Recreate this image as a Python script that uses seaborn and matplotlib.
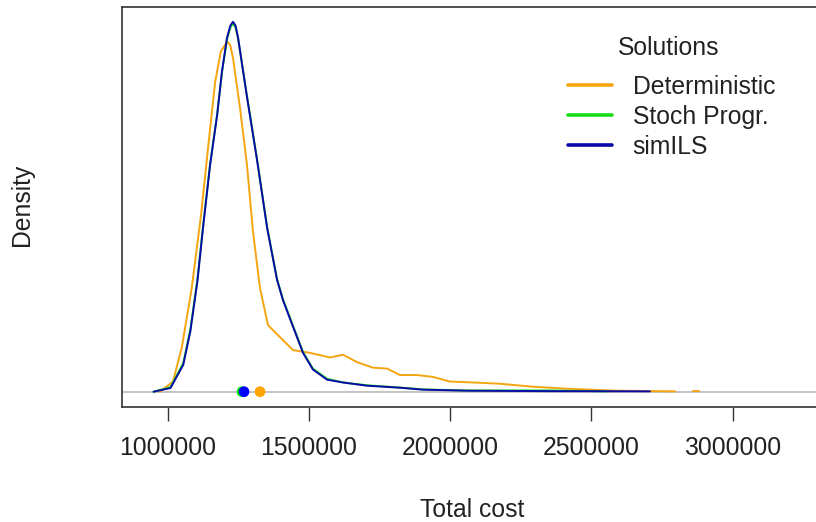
import pandas as pd
import seaborn as sns
import matplotlib.pyplot as plt
from matplotlib.lines import Line2D

# density curves of the total cost (density in 1e-6 units)
det_cost = [972700, 1018800, 1050000, 1085000, 1118000, 1143000, 1168000, 1188000,
            1203000, 1213400, 1222000, 1231000, 1255900, 1280700, 1301900, 1326700,
            1355000, 1397500, 1443500, 1503700, 1574500, 1620500, 1670100, 1726700,
            1776300, 1822300, 1882500, 1939100, 1999300, 2080700, 2176300, 2293100,
            2413400, 2590400, 2795800]
det_dens = [0.00, 0.11, 0.48, 1.12, 1.91, 2.64, 3.35, 3.68,
            3.75, 3.78, 3.74, 3.61, 3.07, 2.45, 1.73, 1.12,
            0.72, 0.59, 0.45, 0.42, 0.37, 0.40, 0.32, 0.26,
            0.25, 0.18, 0.18, 0.16, 0.11, 0.10, 0.086, 0.054,
            0.032, 0.011, 0.004]
det_tail_cost = [2858000, 2880000]
det_tail_dens = [0.010, 0.010]

sp_cost = [950000, 1010000, 1055000, 1080000, 1105000, 1125000, 1150000, 1175000,
           1192000, 1210000, 1222000, 1231000, 1240000, 1249000, 1281000, 1316000,
           1352000, 1387000, 1408000, 1444000, 1479000, 1514000, 1564000, 1620000,
           1705000, 1822000, 1904000, 2060000, 2353000, 2388000, 2560000]
sp_dens = [0.00, 0.05, 0.31, 0.67, 1.21, 1.79, 2.46, 3.00,
           3.45, 3.81, 3.94, 3.98, 3.94, 3.82, 3.19, 2.52,
           1.78, 1.22, 1.00, 0.71, 0.43, 0.25, 0.14, 0.10,
           0.07, 0.045, 0.025, 0.013, 0.014, 0.012, 0.004]

ils_cost = [950000, 1010000, 1055000, 1080000, 1105000, 1125000, 1150000, 1175000,
            1192000, 1210000, 1222000, 1231000, 1240000, 1249000, 1281000, 1316000,
            1352000, 1387000, 1408000, 1444000, 1479000, 1514000, 1564000, 1620000,
            1705000, 1822000, 1904000, 2060000, 2353000, 2707000]
ils_dens = [0.00, 0.04, 0.29, 0.65, 1.19, 1.77, 2.45, 2.99,
            3.46, 3.83, 3.96, 4.00, 3.96, 3.83, 3.18, 2.51,
            1.77, 1.21, 0.99, 0.70, 0.42, 0.24, 0.13, 0.10,
            0.065, 0.043, 0.022, 0.011, 0.006, 0.004]

# mean cost of each solution, drawn as dots on the zero line
solutions = ["Deterministic", "Stoch Progr.", "simILS"]
mean_cost = [1326700, 1263000, 1270100]

line_colors = {"Deterministic": "#F5A511", "Stoch Progr.": "#19DD19", "simILS": "#0A0AA8"}
dot_colors = {"Deterministic": "#FFA500", "Stoch Progr.": "#00FF00", "simILS": "#0000FF"}

xticks = [1000000, 1500000, 2000000, 2500000, 3000000]

curves = pd.concat([
    pd.DataFrame({"cost": det_cost, "dens": det_dens, "solution": "Deterministic"}),
    pd.DataFrame({"cost": sp_cost, "dens": sp_dens, "solution": "Stoch Progr."}),
    pd.DataFrame({"cost": ils_cost, "dens": ils_dens, "solution": "simILS"}),
], ignore_index=True)
means = pd.DataFrame({"cost": mean_cost, "dens": 0.0, "solution": solutions})

sns.set_style("white")
plt.rcParams["font.family"] = ["Liberation Sans", "DejaVu Sans"]
txt = "#222222"
fs = 17.8

fig = plt.figure(figsize=(8.16, 5.22), dpi=100)
ax = fig.add_axes([122 / 816, 1 - 406.5 / 522, (816 - 122) / 816, (406.5 - 7) / 522])

ax.axhline(0, color="#BEBEBE", lw=1.3, zorder=1)
sns.lineplot(data=curves, x="cost", y="dens", hue="solution", hue_order=solutions,
             palette=line_colors, sort=False, estimator=None, lw=1.4,
             legend=False, ax=ax, zorder=2)
sns.lineplot(x=det_tail_cost, y=det_tail_dens, color=line_colors["Deterministic"],
             lw=1.4, ax=ax, zorder=2)
sns.scatterplot(data=means, x="cost", y="dens", hue="solution", hue_order=solutions,
                palette=dot_colors, s=60, linewidth=0, legend=False, ax=ax, zorder=3)

ax.set_xlim(838230, 3294900)
ax.set_ylim(-0.16, 4.16)
ax.set_xticks(xticks)
ax.set_xticklabels([str(v) for v in xticks])
ax.set_yticks([])
ax.tick_params(axis="x", length=10, width=1, color="#333333", pad=11,
               labelsize=fs, labelcolor=txt, bottom=True)

for side in ["left", "top", "bottom"]:
    ax.spines[side].set_color("#333333")
    ax.spines[side].set_linewidth(1.2)
ax.spines["right"].set_visible(False)

ax.set_xlabel("Total cost", fontsize=fs, color=txt)
ax.set_ylabel("Density", fontsize=fs, color=txt)
ax.xaxis.set_label_coords(0.504, -0.259)
ax.xaxis.label.set_va("center")
ax.yaxis.set_label_coords(-0.144, 0.504)
ax.yaxis.label.set_va("center")
ax.yaxis.label.set_ha("center")

ax.text(0.788, 0.897, "Solutions", transform=ax.transAxes, ha="center", va="center",
        fontsize=fs, color=txt)
handles = [Line2D([0], [0], color=line_colors[s], lw=2.6) for s in solutions]
leg = ax.legend(handles, solutions, frameon=False,
                loc="upper left", bbox_to_anchor=(0.643, 0.830),
                fontsize=fs, handlelength=1.75,
                handletextpad=0.85, labelspacing=0.24, borderpad=0,
                borderaxespad=0)
for t in leg.get_texts():
    t.set_color(txt)

fig.savefig("out.png", dpi=100)
